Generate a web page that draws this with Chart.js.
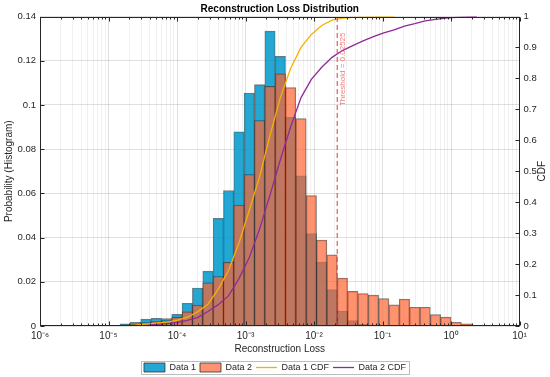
<!DOCTYPE html>
<html>
<head>
<meta charset="utf-8">
<script src="https://cdn.jsdelivr.net/npm/chart.js@4.4.1/dist/chart.umd.min.js"></script>
<style>
    html, body { margin: 0; padding: 0; background: #fff; }
</style>
</head>
<body>
<canvas id="loss-chart" width="550" height="377"></canvas>
<script>
// Histogram bin centres (log10 of the loss)
const binCentersLog = [
    -5.6625, -5.5115, -5.3605, -5.2095, -5.0585, -4.9075, -4.7565, -4.6055,
    -4.4545, -4.3035, -4.1525, -4.0015, -3.8505, -3.6995, -3.5485, -3.3975,
    -3.2465, -3.0955, -2.9445, -2.7935, -2.6425, -2.4915, -2.3405, -2.1895,
    -2.0385, -1.8875, -1.7365, -1.5855, -1.4345, -1.2835, -1.1325, -0.9815,
    -0.8305, -0.6795, -0.5285, -0.3775, -0.2265, -0.0755, 0.0755, 0.2265, 0.3775
];

// Probability per bin
const data1Prob = [
    0.0002, null, null, null, null, null, 0.0010, 0.0017,
    0.0031, 0.0035, 0.0033, 0.0053, 0.0103, 0.0172, 0.0248, 0.0487,
    0.0612, 0.0878, 0.1054, 0.1092, 0.1334, 0.1220, 0.0944, 0.0679,
    0.0418, 0.0289, 0.0165, 0.0068, 0.0024, 0.0009, 0.0003, 0.0001,
    0.0001, null, null, null, null, null, null, null, null
];
const data2Prob = [
    null, null, null, null, null, 0.0001, 0.0005, 0.0008,
    0.0016, 0.0020, 0.0024, 0.0040, 0.0064, 0.0095, 0.0195, 0.0224,
    0.0288, 0.0547, 0.0685, 0.0929, 0.1084, 0.1141, 0.1078, 0.0938,
    0.0590, 0.0389, 0.0322, 0.0217, 0.0157, 0.0147, 0.0140, 0.0124,
    0.0096, 0.0122, 0.0085, 0.0085, 0.0052, 0.0040, 0.0017, 0.0010,
    0.0003
];

// CDF read at each bin centre
const data1Cdf = [
    0.0002, 0.0002, 0.0002, 0.0002, 0.0002, 0.0002, 0.0012, 0.0029,
    0.006, 0.0095, 0.0128, 0.0181, 0.0284, 0.0456, 0.0704, 0.119,
    0.180, 0.268, 0.374, 0.483, 0.616, 0.738, 0.833, 0.900,
    0.942, 0.971, 0.988, 0.995, 0.997, 0.998, 0.999, 1.000,
    1.000, null, null, null, null, null, null, null, null
];
const data2Cdf = [
    null, null, null, null, null, 0.0001, 0.0006, 0.0014,
    0.003, 0.005, 0.0074, 0.0114, 0.0178, 0.0273, 0.0468, 0.069,
    0.098, 0.153, 0.221, 0.314, 0.423, 0.537, 0.644, 0.738,
    0.797, 0.836, 0.868, 0.890, 0.906, 0.921, 0.935, 0.947,
    0.957, 0.969, 0.977, 0.986, 0.991, 0.995, 0.997, 0.999,
    1.000
];

const thresholdValue = 0.02185;
const thresholdLabel = 'Threshold = 0.02525';

const xTickExponents = [-6, -5, -4, -3, -2, -1, 0, 1];
const minorMultipliers = [2, 3, 4, 5, 6, 7, 8, 9];

const FONT = '"Liberation Sans", Arial, sans-serif';
const AXIS_COLOR = '#262626';
const GRID_COLOR = 'rgba(0, 0, 0, 0.12)';
const MINOR_GRID_COLOR = 'rgba(0, 0, 0, 0.055)';

const SUP = {'-': '\u207B', '0': '\u2070', '1': '\u00B9', '2': '\u00B2', '3': '\u00B3',
    '4': '\u2074', '5': '\u2075', '6': '\u2076', '7': '\u2077', '8': '\u2078', '9': '\u2079'};

function powerLabel(exp) {
    return '10' + String(exp).split('').map(c => SUP[c]).join('');
}

function toPoints(values) {
    return values.map((v, i) => ({ x: Math.pow(10, binCentersLog[i]), y: v }));
}

/**
 * Frame, inward tick marks, titles, threshold label and legend border
 */
const decorPlugin = {
    id: 'decor',
    afterDraw(chart) {
        const { ctx, chartArea: a, scales } = chart;
        const L = Math.round(a.left) + 0.5, R = Math.round(a.right) - 0.5;
        const T = Math.round(a.top) + 0.5, B = Math.round(a.bottom) - 0.5;
        ctx.save();

        ctx.strokeStyle = AXIS_COLOR;
        ctx.lineWidth = 1;
        ctx.strokeRect(L, T, R - L, B - T);

        // tick marks pointing into the plot
        ctx.beginPath();
        scales.x.ticks.forEach(t => {
            const px = Math.round(scales.x.getPixelForValue(t.value)) + 0.5;
            ctx.moveTo(px, B); ctx.lineTo(px, B - 4);
            ctx.moveTo(px, T); ctx.lineTo(px, T + 4);
        });
        scales.xMinor.ticks.forEach(t => {
            const px = Math.round(scales.xMinor.getPixelForValue(t.value)) + 0.5;
            ctx.moveTo(px, B); ctx.lineTo(px, B - 2);
            ctx.moveTo(px, T); ctx.lineTo(px, T + 2);
        });
        scales.y.ticks.forEach(t => {
            const py = Math.round(scales.y.getPixelForValue(t.value)) + 0.5;
            ctx.moveTo(L, py); ctx.lineTo(L + 4, py);
        });
        scales.y2.ticks.forEach(t => {
            const py = Math.round(scales.y2.getPixelForValue(t.value)) + 0.5;
            ctx.moveTo(R, py); ctx.lineTo(R - 4, py);
        });
        ctx.stroke();

        // title
        ctx.fillStyle = '#000';
        ctx.font = 'bold 10px ' + FONT;
        ctx.textAlign = 'center';
        ctx.textBaseline = 'middle';
        ctx.fillText('Reconstruction Loss Distribution', (a.left + a.right) / 2, 9.5);

        // right axis title, reading bottom to top
        ctx.save();
        ctx.translate(542, (a.top + a.bottom) / 2);
        ctx.rotate(-Math.PI / 2);
        ctx.fillStyle = AXIS_COLOR;
        ctx.font = '10px ' + FONT;
        ctx.fillText('CDF', 0, 0);
        ctx.restore();

        // threshold label
        const xp = scales.x.getPixelForValue(thresholdValue);
        ctx.save();
        ctx.translate(xp + 6, a.top + 16);
        ctx.rotate(-Math.PI / 2);
        ctx.textAlign = 'right';
        ctx.fillStyle = 'rgba(232, 80, 80, 0.75)';
        ctx.font = '8px ' + FONT;
        ctx.fillText(thresholdLabel, 0, 0);
        ctx.restore();

        // legend border
        const boxes = chart.legend.legendHitBoxes;
        if (boxes && boxes.length) {
            const left = Math.min(...boxes.map(b => b.left)) - 3;
            const right = Math.max(...boxes.map(b => b.left + b.width)) + 3;
            const top = Math.min(...boxes.map(b => b.top)) - 2;
            const bottom = Math.max(...boxes.map(b => b.top + b.height)) + 2;
            ctx.strokeStyle = '#bdbdbd';
            ctx.strokeRect(Math.round(left) + 0.5, Math.round(top) + 0.5,
                Math.round(right - left), Math.round(bottom - top));
        }
        ctx.restore();
    }
};

function initLossChart() {
    const ctx = document.getElementById('loss-chart');

    const datasets = [
        {
            type: 'bar',
            label: 'Data 1',
            data: toPoints(data1Prob),
            backgroundColor: 'rgba(0, 153, 204, 0.86)',
            borderColor: 'rgba(30, 30, 30, 0.6)',
            borderWidth: 0.8,
            grouped: false,
            barPercentage: 1,
            categoryPercentage: 1,
            yAxisID: 'y',
            order: 4
        },
        {
            type: 'bar',
            label: 'Data 2',
            data: toPoints(data2Prob),
            backgroundColor: 'rgba(255, 100, 50, 0.7)',
            borderColor: 'rgba(30, 30, 30, 0.6)',
            borderWidth: 0.8,
            grouped: false,
            barPercentage: 1,
            categoryPercentage: 1,
            yAxisID: 'y',
            order: 3
        },
        {
            type: 'line',
            label: 'Data 1 CDF',
            data: toPoints(data1Cdf),
            borderColor: '#f7b000',
            borderWidth: 1.3,
            pointRadius: 0,
            tension: 0,
            yAxisID: 'y2',
            order: 1
        },
        {
            type: 'line',
            label: 'Data 2 CDF',
            data: toPoints(data2Cdf),
            borderColor: '#8f2a98',
            borderWidth: 1.3,
            pointRadius: 0,
            tension: 0,
            yAxisID: 'y2',
            order: 2
        },
        {
            type: 'line',
            label: 'threshold',
            data: [{ x: thresholdValue, y: 0 }, { x: thresholdValue, y: 0.14 }],
            borderColor: 'rgba(232, 60, 60, 0.85)',
            borderWidth: 1.2,
            borderDash: [5, 3],
            pointRadius: 0,
            yAxisID: 'y',
            order: 0
        }
    ];

    const config = {
        type: 'bar',
        data: { datasets: datasets },
        options: {
            responsive: false,
            animation: false,
            events: [],
            layout: { padding: { top: 16.5, bottom: -5, left: 0, right: 0 } },
            plugins: {
                title: { display: false },
                tooltip: { enabled: false },
                legend: {
                    position: 'bottom',
                    labels: {
                        usePointStyle: true,
                        pointStyleWidth: 21,
                        boxWidth: 21,
                        boxHeight: 9,
                        padding: 4,
                        color: AXIS_COLOR,
                        font: { family: FONT, size: 9 },
                        generateLabels: function(chart) {
                            return chart.data.datasets.slice(0, 4).map(function(ds, i) {
                                const isLine = ds.type === 'line';
                                return {
                                    text: ds.label,
                                    datasetIndex: i,
                                    fillStyle: isLine ? ds.borderColor : ds.backgroundColor,
                                    strokeStyle: isLine ? ds.borderColor : '#333',
                                    lineWidth: isLine ? 1.3 : 0.8,
                                    pointStyle: isLine ? 'line' : 'rect',
                                    fontColor: AXIS_COLOR,
                                    hidden: false
                                };
                            });
                        }
                    }
                }
            },
            scales: {
                x: {
                    type: 'logarithmic',
                    position: 'bottom',
                    min: 1e-6,
                    max: 10,
                    offset: false,
                    grid: { color: GRID_COLOR, drawTicks: false, offset: false },
                    border: { display: false },
                    afterBuildTicks: function(scale) {
                        scale.ticks = xTickExponents.map(e => ({ value: Math.pow(10, e) }));
                    },
                    afterFit: function(scale) { scale.height = 33; },
                    ticks: {
                        autoSkip: false,
                        maxRotation: 0,
                        padding: 4,
                        color: AXIS_COLOR,
                        font: { family: FONT, size: 10 },
                        callback: function(value) {
                            return powerLabel(Math.round(Math.log10(value)));
                        }
                    },
                    title: {
                        display: true,
                        text: 'Reconstruction Loss',
                        color: AXIS_COLOR,
                        font: { family: FONT, size: 10 },
                        padding: { top: 0, bottom: 4 }
                    }
                },
                xMinor: {
                    type: 'logarithmic',
                    position: 'bottom',
                    min: 1e-6,
                    max: 10,
                    offset: false,
                    grid: { color: MINOR_GRID_COLOR, drawTicks: false, offset: false },
                    border: { display: false },
                    ticks: { display: false },
                    afterBuildTicks: function(scale) {
                        const ticks = [];
                        xTickExponents.slice(0, -1).forEach(e => {
                            minorMultipliers.forEach(m => ticks.push({ value: m * Math.pow(10, e) }));
                        });
                        scale.ticks = ticks;
                    },
                    afterFit: function(scale) { scale.height = 0; }
                },
                y: {
                    type: 'linear',
                    position: 'left',
                    min: 0,
                    max: 0.14,
                    grid: { color: GRID_COLOR, drawTicks: false },
                    border: { display: false },
                    afterFit: function(scale) { scale.width = 40; },
                    ticks: {
                        stepSize: 0.02,
                        padding: 4,
                        color: AXIS_COLOR,
                        font: { family: FONT, size: 9.5 },
                        callback: function(value) { return String(+value.toFixed(2)); }
                    },
                    title: {
                        display: true,
                        text: 'Probability (Histogram)',
                        color: AXIS_COLOR,
                        font: { family: FONT, size: 10 },
                        padding: { top: 3, bottom: 0 }
                    }
                },
                y2: {
                    type: 'linear',
                    position: 'right',
                    min: 0,
                    max: 1,
                    grid: { display: false, drawTicks: false },
                    border: { display: false },
                    afterFit: function(scale) { scale.width = 30.5; },
                    ticks: {
                        stepSize: 0.1,
                        padding: 4,
                        color: AXIS_COLOR,
                        font: { family: FONT, size: 9.5 },
                        callback: function(value) { return String(+value.toFixed(1)); }
                    },
                    title: { display: false }
                }
            }
        },
        plugins: [decorPlugin]
    };

    return new Chart(ctx, config);
}

initLossChart();
</script>
</body>
</html>
